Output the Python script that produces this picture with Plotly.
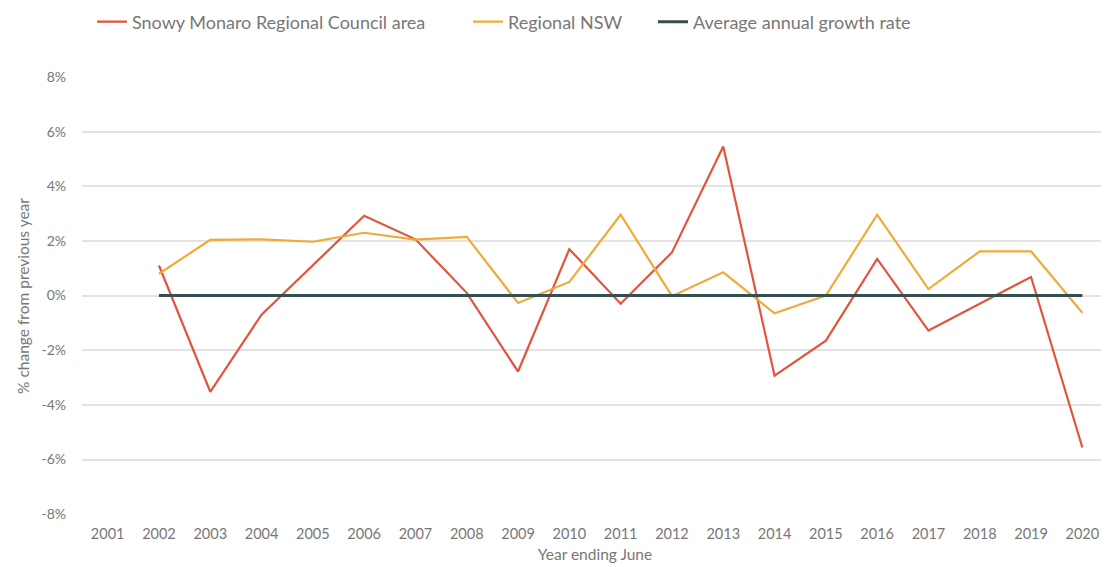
import plotly.graph_objects as go

years = [str(y) for y in range(2001, 2021)]
series_years = [str(y) for y in range(2002, 2021)]

snowy_monaro = [1.1, -3.52, -0.7, 1.1, 2.92, 2.06, 0.1, -2.78, 1.7, -0.3, 1.58,
                5.46, -2.93, -1.65, 1.34, -1.28, -0.3, 0.68, -5.56]
regional_nsw = [0.8, 2.04, 2.06, 1.97, 2.3, 2.05, 2.15, -0.27, 0.5, 2.96, -0.02,
                0.85, -0.65, 0.0, 2.96, 0.24, 1.62, 1.62, -0.63]
avg_growth = [0.0] * len(series_years)

y_ticks = [-8, -6, -4, -2, 0, 2, 4, 6, 8]
y_tick_labels = [f"{v}%" for v in y_ticks]

RED = "#e0553b"
ORANGE = "#efaa38"
DARK = "#344f4f"
TEXT = "#777777"
FONT = "Lato"

W, H = 1101, 559

fig = go.Figure()
fig.add_trace(go.Scatter(x=series_years, y=snowy_monaro, mode="lines",
                         name="Snowy Monaro Regional Council area",
                         line=dict(color=RED, width=2.2), legend="legend"))
fig.add_trace(go.Scatter(x=series_years, y=regional_nsw, mode="lines",
                         name="Regional NSW",
                         line=dict(color=ORANGE, width=2.2), legend="legend2"))
fig.add_trace(go.Scatter(x=series_years, y=avg_growth, mode="lines",
                         name="Average annual growth rate",
                         line=dict(color=DARK, width=3), legend="legend3"))

legend_font = dict(family=FONT, size=18, color=TEXT)
legend_common = dict(orientation="h", yref="container", y=1 - 14 / H,
                     yanchor="middle", xanchor="left", xref="container",
                     font=legend_font, bgcolor="rgba(0,0,0,0)")

fig.update_layout(
    width=W, height=H,
    margin=dict(l=74, r=1, t=69, b=52),
    paper_bgcolor="white", plot_bgcolor="white",
    font=dict(family=FONT, size=15, color=TEXT),
    showlegend=True,
    legend=dict(x=84 / W, **legend_common),
    legend2=dict(x=460 / W, **legend_common),
    legend3=dict(x=645 / W, **legend_common),
)
fig.update_xaxes(type="category", categoryorder="array", categoryarray=years,
                 range=[-0.5, 19.5], showgrid=False, zeroline=False,
                 showline=False, ticks="", ticklabelstandoff=8,
                 tickfont=dict(family=FONT, size=14.5, color=TEXT),
                 title=dict(text="Year ending June", standoff=8,
                            font=dict(family=FONT, size=15.5, color=TEXT)))
fig.update_yaxes(range=[-8.03, 8], tickvals=y_ticks, ticktext=y_tick_labels,
                 showgrid=True, gridcolor="#e3e3e3", gridwidth=1.5,
                 zeroline=False, showline=False, ticks="",
                 ticklabelstandoff=15,
                 tickfont=dict(family=FONT, size=14, color=TEXT),
                 title=dict(text="% change from previous year", standoff=8,
                            font=dict(family=FONT, size=15.5, color=TEXT)))

fig.write_html("out.html")
